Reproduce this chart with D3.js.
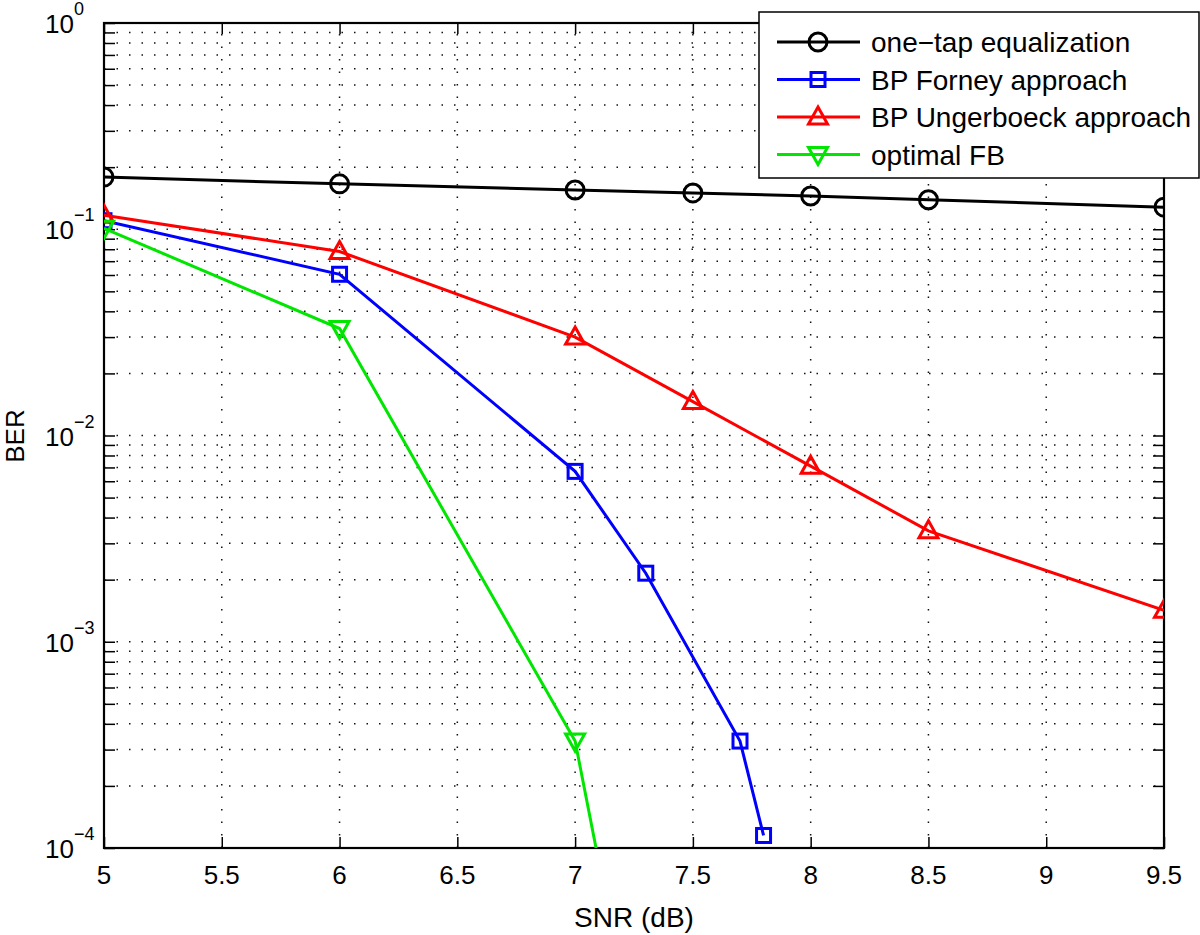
<!DOCTYPE html>
<html>
<head>
<meta charset="utf-8">
<script src="https://cdn.jsdelivr.net/npm/d3@7"></script>
<style>
  body { margin: 0; background: #fff; }
  svg text { font-family: "Liberation Sans", Arial, Helvetica, sans-serif; fill: #000; }
</style>
</head>
<body>
<script>
/***********************************************************************************/
// Data

var snr_onetap  = [5, 6, 7, 7.5, 8, 8.5, 9.5];
var ber_onetap  = [0.179, 0.166, 0.155, 0.150, 0.145, 0.139, 0.128];

var snr_forney  = [5, 6, 7, 7.3, 7.7, 7.8];
var ber_forney  = [0.110, 0.0605, 0.0067, 0.00215, 0.00033, 0.000115];

var snr_unger   = [5, 6, 7, 7.5, 8, 8.5, 9.5];
var ber_unger   = [0.117, 0.078, 0.0300, 0.0146, 0.0071, 0.00345, 0.00142];

var snr_optfb   = [5, 6, 7, 7.5];
var ber_optfb   = [0.101, 0.0330, 0.00033, 4e-7];

var series_names  = ['one\u2212tap equalization', 'BP Forney approach', 'BP Ungerboeck approach', 'optimal FB'];
var series_colors = ['#000000', '#0000ff', '#ff0000', '#00e600'];
var series_marks  = ['circle', 'square', 'triangle', 'triangledown'];

var x_ticks = [5, 5.5, 6, 6.5, 7, 7.5, 8, 8.5, 9, 9.5];
var y_decades = [0, -1, -2, -3, -4];

/***********************************************************************************/
// Setup

var W = 1200, H = 935;
var m = { left: 104, right: 1164, top: 23, bottom: 848 };

var svg = d3.select('body').append('svg').attr('width', W).attr('height', H);

var x = d3.scaleLinear().domain([5, 9.5]).range([m.left, m.right]);
var y = d3.scaleLog().domain([1e-4, 1]).range([m.bottom, m.top]);

svg.append('defs').append('clipPath').attr('id', 'clip')
  .append('rect').attr('x', m.left).attr('y', m.top)
  .attr('width', m.right - m.left).attr('height', m.bottom - m.top);

/***********************************************************************************/
// Grid

var minor = [];
for (var d = -4; d < 0; d++) {
  for (var k = 1; k < 10; k++) minor.push(k * Math.pow(10, d));
}
minor.push(1);

var grid = svg.append('g').attr('stroke', '#111').attr('stroke-width', 1.5)
  .attr('stroke-dasharray', '1.5,11');

grid.selectAll('.gx').data(x_ticks.slice(1, -1)).enter().append('line')
  .attr('x1', function(d){ return x(d); }).attr('x2', function(d){ return x(d); })
  .attr('y1', m.bottom).attr('y2', m.top);

grid.selectAll('.gy').data(minor.filter(function(v){ return v > 1e-4 && v < 1; })).enter().append('line')
  .attr('x1', m.left).attr('x2', m.right)
  .attr('y1', function(d){ return y(d); }).attr('y2', function(d){ return y(d); });

/***********************************************************************************/
// Axes: ticks on all four sides, pointing inward

var xb = d3.axisBottom(x).tickValues(x_ticks).tickSizeInner(-11).tickSizeOuter(0).tickFormat('');
var xt = d3.axisTop(x).tickValues(x_ticks).tickSizeInner(-11).tickSizeOuter(0).tickFormat('');
var yl = d3.axisLeft(y).tickValues(minor).tickSizeInner(-11).tickSizeOuter(0).tickFormat('');
var yr = d3.axisRight(y).tickValues(minor).tickSizeInner(-11).tickSizeOuter(0).tickFormat('');

[[xb, 'translate(0,' + m.bottom + ')'], [xt, 'translate(0,' + m.top + ')'],
 [yl, 'translate(' + m.left + ',0)'], [yr, 'translate(' + m.right + ',0)']].forEach(function(a){
  var g = svg.append('g').attr('transform', a[1]).call(a[0]);
  g.select('.domain').remove();
  g.selectAll('line').attr('stroke', '#000').attr('stroke-width', 1.5);
});

svg.append('rect').attr('x', m.left).attr('y', m.top)
  .attr('width', m.right - m.left).attr('height', m.bottom - m.top)
  .attr('fill', 'none').attr('stroke', '#000').attr('stroke-width', 2.2);

// tick labels
svg.selectAll('.xl').data(x_ticks).enter().append('text')
  .attr('x', function(d){ return x(d); }).attr('y', 884)
  .attr('text-anchor', 'middle').attr('font-size', 26)
  .text(function(d){ return d; });

var yt = svg.selectAll('.yl').data(y_decades).enter().append('text')
  .attr('x', 45).attr('y', function(d){ return y(Math.pow(10, d)) + 10; })
  .attr('font-size', 26);
yt.append('tspan').text('10');
yt.append('tspan').attr('dy', -18).attr('font-size', 18)
  .text(function(d){ return d === 0 ? '0' : '\u2212' + (-d); });

// axis labels
svg.append('text').attr('x', (m.left + m.right) / 2).attr('y', 927)
  .attr('text-anchor', 'middle').attr('font-size', 28).text('SNR (dB)');

svg.append('text').attr('transform', 'translate(24,436) rotate(-90)')
  .attr('text-anchor', 'middle').attr('font-size', 26).text('BER');

/***********************************************************************************/
// Series

function marker(g, type, color) {
  if (type == 'circle') {
    g.append('circle').attr('r', 9);
  } else if (type == 'square') {
    g.append('rect').attr('x', -7).attr('y', -7).attr('width', 14).attr('height', 14);
  } else if (type == 'triangle') {
    g.append('path').attr('d', 'M0,-10L9.5,7L-9.5,7Z');
  } else {
    g.append('path').attr('d', 'M0,10L9.5,-7L-9.5,-7Z');
  }
  g.selectAll('*').attr('fill', 'none').attr('stroke', color).attr('stroke-width', 3);
}

var all = [
  [snr_onetap, ber_onetap], [snr_forney, ber_forney],
  [snr_unger, ber_unger], [snr_optfb, ber_optfb]
];

var line = d3.line().x(function(d){ return x(d[0]); }).y(function(d){ return y(d[1]); });
var plot = svg.append('g').attr('clip-path', 'url(#clip)');

all.forEach(function(s, i){
  var pts = d3.zip(s[0], s[1]);
  var g = plot.append('g');
  g.append('path').datum(pts).attr('d', line)
    .attr('fill', 'none').attr('stroke', series_colors[i]).attr('stroke-width', 3);
  g.selectAll('.mk').data(pts).enter().append('g')
    .attr('transform', function(d){ return 'translate(' + x(d[0]) + ',' + y(d[1]) + ')'; })
    .each(function(){ marker(d3.select(this), series_marks[i], series_colors[i]); });
});

/***********************************************************************************/
// Legend

var lg = svg.append('g');
lg.append('rect').attr('x', 759).attr('y', 12).attr('width', 440).attr('height', 166)
  .attr('fill', '#fff').attr('stroke', '#000').attr('stroke-width', 1.5);

series_names.forEach(function(n, i){
  var ry = 42 + i * 37.5;
  lg.append('line').attr('x1', 777).attr('x2', 860).attr('y1', ry).attr('y2', ry)
    .attr('stroke', series_colors[i]).attr('stroke-width', 3);
  var mg = lg.append('g').attr('transform', 'translate(818,' + ry + ')');
  marker(mg, series_marks[i], series_colors[i]);
  lg.append('text').attr('x', 871).attr('y', ry + 10).attr('font-size', 28).text(n);
});
</script>
</body>
</html>
